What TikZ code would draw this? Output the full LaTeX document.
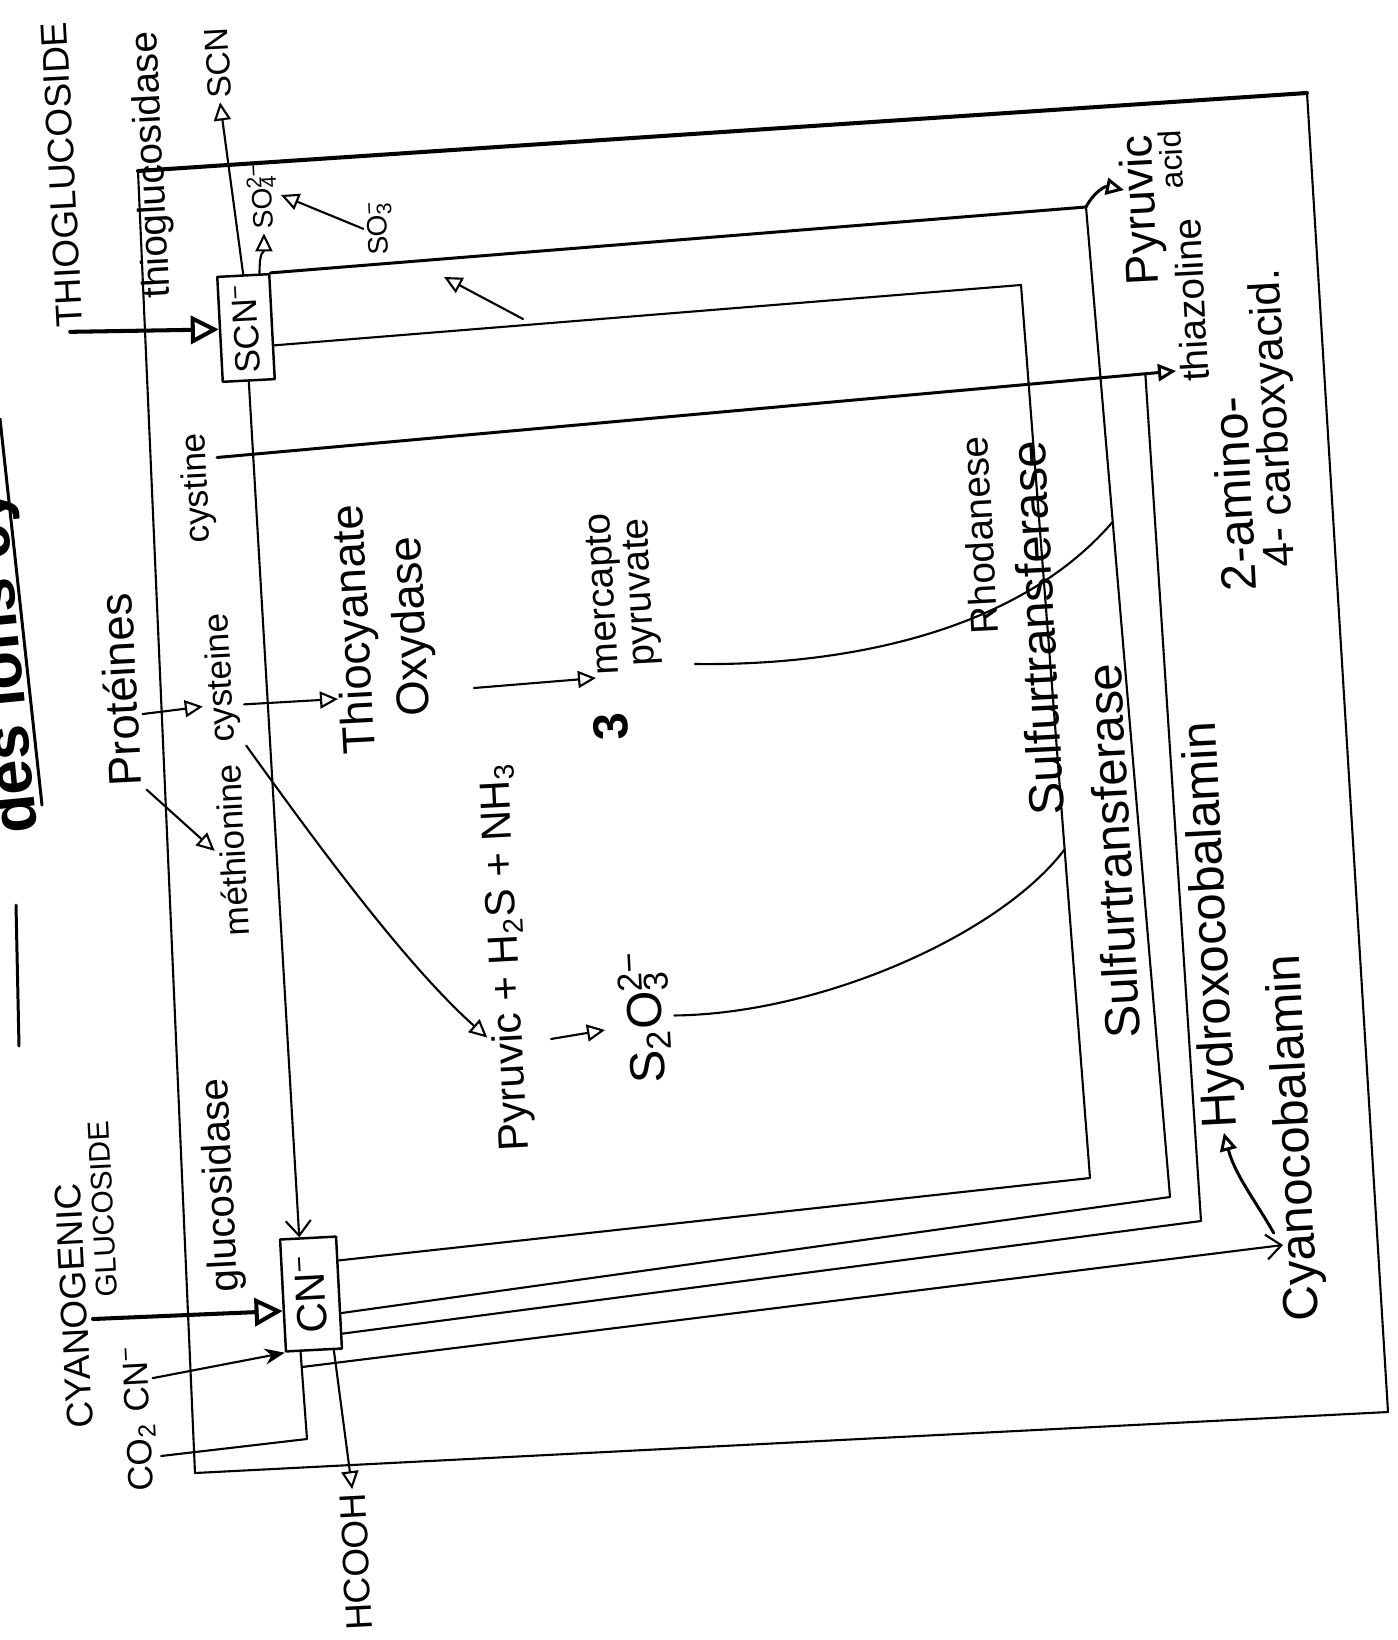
\documentclass[tikz,border=0pt]{standalone}
\usepackage{fontspec}
\setmainfont{Liberation Sans}
\usetikzlibrary{arrows.meta,calc}
\newcommand\chemss[2]{\rlap{\textsubscript{#1}}\textsuperscript{#2}}
\begin{document}
\begin{tikzpicture}[x=0.01cm,y={(0cm,-0.01cm)},>={Triangle[open,length=1.8mm,width=1.7mm]},line cap=round,line join=round,
  wire/.style={line width=0.6pt},
  mid/.style={line width=0.85pt},
  heavy/.style={line width=1.15pt},
  lbl/.style={rotate=93,inner sep=1pt},
  ionbox/.style={lbl,draw,line width=0.7pt,inner sep=0pt},
  fs/.style={font=\fontsize{#1}{#1}\selectfont},
  bigtip/.style={-{Triangle[open,length=2.8mm,width=2.8mm]}},
  barb/.style={-{Straight Barb[length=1.5mm,width=2.5mm]}}]
\useasboundingbox (0,0) rectangle (1398,1640);
\coordinate (oTL) at (138,171);
\coordinate (oTR) at (1307,93);
\coordinate (oBR) at (1388,1412);
\coordinate (oBL) at (195,1473);
\coordinate (v1t) at (1021,285);
\coordinate (v1b) at (1090,1178);
\coordinate (v2t) at (1086,207);
\coordinate (v2b) at (1170,1197);
\coordinate (v3b) at (1201,1221);
\coordinate (thztip) at (1176,371);
\coordinate (pyatip) at (1124,190);
\coordinate (lone0) at (523,319);
\coordinate (lone1) at (444,277);
\coordinate (thtip) at (338,699);
\coordinate (ox0) at (474,688);
\coordinate (mptip) at (596,678);
\coordinate (pyr0) at (551,1039);
\coordinate (s2tip) at (605,1030);
\coordinate (rh0) at (695,664);
\coordinate (co2c) at (307,1439);
\coordinate (cyantip) at (1283,1245);
\coordinate (cgin) at (93,1319);

\node[lbl,anchor=base,rotate=2.5,font=\fontsize{18}{18}\selectfont\bfseries] (title) at (21,660) {des ions cy};
\draw[mid] (0,419) -- (42,805);
\draw[mid] (16,905) -- (19,1046);

\node[lbl,fs=10.5] (thio) at (62,175) {THIOGLUCOSIDE};
\node[lbl,fs=11] (thiog) at (153,165) {thioglucosidase};
\node[lbl,fs=9.5] (scnout) at (218,63) {SCN};
\node[ionbox,fs=10,minimum width=1.05cm,minimum height=0.52cm] (scn) at (246,328) {SCN\textsuperscript{−}};
\node[lbl,fs=8] (so4) at (262,196) {SO\chemss{4}{2−}};
\node[lbl,fs=8] (so3) at (380,228) {SO\chemss{3}{−}};
\node[lbl,fs=13] (pyrv) at (1143,210) {Pyruvic};
\node[lbl,fs=9] (acid) at (1171,160) {acid};
\node[lbl,fs=10] (cyst) at (198,488) {cystine};
\node[lbl,fs=13] (prot) at (120,690) {Protéines};
\node[lbl,fs=10] (cys) at (222,678) {cysteine};
\node[lbl,fs=10] (meth) at (232,850) {méthionine};
\node[lbl,align=center,font=\fontsize{13}{16}\selectfont] (tho) at (385,628) {Thiocyanate\\Oxydase};
\node[lbl,font=\fontsize{14}{14}\selectfont\bfseries] (three) at (611,727) {3};
\node[lbl,align=center,font=\fontsize{11}{10.5}\selectfont] (mp) at (624,593) {mercapto\\pyruvate};
\node[lbl,fs=12] (pyr) at (507,957) {Pyruvic + H\textsubscript{2}S + NH\textsubscript{3}};
\node[lbl,fs=14] (s2o3) at (645,1017) {S\textsubscript{2}O\chemss{3}{2−}};
\node[lbl,fs=11] (rhod) at (979,535) {Rhodanese};
\node[lbl,fs=14] (sulf1) at (1037,628) {Sulfurtransferase};
\node[lbl,fs=14] (sulf2) at (1113,851) {Sulfurtransferase};
\node[lbl,fs=14] (hyd) at (1213,925) {Hydroxocobalamin};
\node[lbl,fs=14] (cyan) at (1296,1138) {Cyanocobalamin};
\node[lbl,fs=14] (amino) at (1234,494) {2-amino-};
\node[lbl,fs=11] (thiaz) at (1191,300) {thiazoline};
\node[lbl,fs=12.5] (carb) at (1275,418) {4- carboxyacid.};
\node[lbl,fs=10.5] (cyanog) at (74,1306) {CYANOGENIC};
\node[lbl,fs=8.5] (gluc) at (103,1209) {GLUCOSIDE};
\node[lbl,fs=11.5] (glucd) at (222,1185) {glucosidase};
\node[ionbox,fs=12,minimum width=1.12cm,minimum height=0.56cm] (cn) at (311,1294) {CN\textsuperscript{−}};
\node[lbl,fs=10] (cnlbl) at (136,1379) {CN\textsuperscript{−}};
\node[lbl,fs=10] (co2) at (142,1457) {CO\textsubscript{2}};
\node[lbl,fs=10.5] (hcooh) at (356,1562) {HCOOH};

\draw[wire] (oTR) -- (oBR) -- (oBL) -- (oTL);
\draw[heavy] (oTL) -- (oTR);
\draw[heavy,bigtip] (thio.west) -- (scn.north);
\draw[wire,->] (scn.east) -- (scnout.west);
\draw[wire,->] ($(scn.east)!0.6!(scn.south east)$) .. controls +(0,-25) and +(0,20) .. (so4.west);
\draw[wire,->] (so3.north) -- (so4.south);
\draw[wire,->] (lone0) -- (lone1);
\draw[mid] (scn.south east) -- (v2t);
\draw[wire] (v2t) -- (v2b) -- ($(cn.south east)!0.68!(cn.south west)$);
\draw[mid,->] (v2t) .. controls (1094,192) and (1105,186) .. (pyatip);
\draw[wire] ($(scn.south)!0.35!(scn.south west)$) -- (v1t) -- (v1b) -- ($(cn.south east)!0.22!(cn.south west)$);
\draw[wire,barb] (scn.west) -- ($(cn.east)!0.3!(cn.north east)$);
\coordinate (cys0) at ($(cyst.south)!0.5!(cyst.south east)$);
\coordinate (v3t) at ($(cys0)!0.968!(thztip)$);
\draw[mid,->] (cys0) -- (thztip);
\draw[wire] (v3t) -- (v3b) -- ($(cn.south east)!0.86!(cn.south west)$);
\draw[wire,->] ($(prot.south)!0.25!(prot.south west)$) -- ($(cys.north)!0.4!(cys.north west)$);
\draw[wire,->] (prot.south west) -- (meth.north);
\draw[wire,->] ($(cys.south)!0.4!(cys.south west)$) -- (thtip);
\draw[wire,->] (cys.south west) .. controls (300,820) and (400,960) .. ($(pyr.north west)!0.3!(pyr.north east)$);
\draw[wire,->] (ox0) -- (mptip);
\draw[wire,->] (pyr0) -- (s2tip);
\coordinate (v2j) at ($(v2t)!0.318!(v2b)$);
\coordinate (v1j) at ($(v1t)!0.632!(v1b)$);
\draw[wire] (rh0) .. controls (850,666) and (1020,630) .. (v2j);
\draw[wire] (s2o3.south) .. controls (820,1014) and (1000,935) .. (v1j);
\coordinate (cnb) at ($(cn.south west)!0.73!(cn.north west)$);
\coordinate (cyj) at ($(co2c)!0.826!(cnb)$);
\draw[wire] (co2.south) -- (co2c) -- (cnb);
\draw[wire,barb] (cyj) -- (cyantip);
\draw[wire,-{Stealth[length=2mm,width=1.6mm]}] (cnlbl.south) -- (cn.north west);
\draw[wire,->] ($(cn.south west)!0.16!(cn.north west)$) -- (hcooh.east);
\draw[heavy,bigtip] (cgin) -- ($(cn.north)!0.27!(cn.north west)$);
\draw[mid,->] ($(cyan.north west)!0.5!(cyan.north)$) .. controls (1255,1200) and (1235,1175) .. (hyd.west);
\end{tikzpicture}
\end{document}
